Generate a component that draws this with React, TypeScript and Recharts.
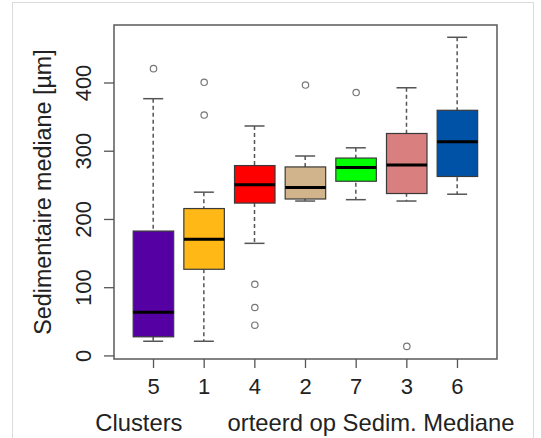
import { ComposedChart, Bar, Scatter, XAxis, YAxis, ReferenceArea } from "recharts";

// clusters sorted by their median sediment size
const clusters = ["5", "1", "4", "2", "7", "3", "6"];
const whiskerLow = [21.5, 21.5, 165, 227, 229, 227, 237];
const q1 = [28, 127, 224, 230, 256, 238, 263];
const median = [64, 171, 251, 247, 276, 280, 314];
const q3 = [183, 216, 279, 277, 290, 326, 360];
const whiskerHigh = [377, 240, 337, 293, 305, 393, 467];
const boxColors = ["#5500a2", "#ffb815", "#ff0000", "#d2b48c", "#00ff00", "#d97f7f", "#0052a6"];

const outlierCluster = ["5", "1", "1", "4", "4", "4", "2", "7", "3"];
const outlierValue = [421, 401, 353, 105, 71, 45, 397, 386, 14];

const yTicks = [0, 100, 200, 300, 400];
const xDomain = [0.22, 7.78];
const yDomain = [-4.5, 485];

const rows = clusters.map((name, i) => ({
  x: i + 1,
  name,
  whisker: [whiskerLow[i], whiskerHigh[i]],
  box: [q1[i], q3[i]],
  median: median[i],
  fill: boxColors[i],
}));

const outlierRows = outlierCluster.map((c, i) => ({
  x: clusters.indexOf(c) + 1,
  value: outlierValue[i],
}));

const FONT = "'Liberation Sans', Arial, sans-serif";
const BOX_W = 40.5;
const CAP_W = 20;

const Whisker = (props: any) => {
  const { x, y, width, height } = props;
  const cx = x + width / 2;
  return (
    <g>
      <line x1={cx} x2={cx} y1={y} y2={y + height} stroke="#555" strokeWidth={1.5} strokeDasharray="4 3" />
      <line x1={x} x2={x + width} y1={y} y2={y} stroke="#555" strokeWidth={1.5} />
      <line x1={x} x2={x + width} y1={y + height} y2={y + height} stroke="#555" strokeWidth={1.5} />
    </g>
  );
};

const Box = (props: any) => {
  const { x, y, width, height, payload } = props;
  return <rect x={x} y={y} width={width} height={height} fill={payload.fill} stroke="#3a3a3a" strokeWidth={1.2} />;
};

const MedianLine = (props: any) => {
  const { cx, cy } = props;
  return <line x1={cx - BOX_W / 2} x2={cx + BOX_W / 2} y1={cy} y2={cy} stroke="#000" strokeWidth={3} />;
};

const Outlier = (props: any) => {
  const { cx, cy } = props;
  return <circle cx={cx} cy={cy} r={3.2} fill="none" stroke="#777" strokeWidth={1.2} />;
};

const XTick = (props: any) => {
  const { x, y, payload } = props;
  return (
    <text x={x} y={y} dy={25.7} textAnchor="middle" fontFamily={FONT} fontSize={22} fill="#222">
      {clusters[payload.value - 1]}
    </text>
  );
};

const YTick = (props: any) => {
  const { x, y, payload } = props;
  const bx = x - 13;
  return (
    <text x={bx} y={y} transform={`rotate(-90, ${bx}, ${y})`} textAnchor="middle" fontFamily={FONT} fontSize={22} fill="#222">
      {payload.value}
    </text>
  );
};

const XTitle = (props: any) => {
  const { x, y, width } = props.viewBox;
  return (
    <g>
      <text x={x + width / 2 - 0.6} y={y + 72} textAnchor="middle" fontFamily={FONT} fontSize={23.8} fill="#222">
        Clusters gesorteerd op Sedim. Mediane
      </text>
      {/* white patch hiding part of the title, as in the source image */}
      <rect x={185} y={404} width={42} height={34} fill="#fff" />
    </g>
  );
};

const YTitle = (props: any) => {
  const { y, height } = props.viewBox;
  const cy = y + height / 2;
  return (
    <text x={51} y={cy} transform={`rotate(-90, 51, ${cy})`} textAnchor="middle" fontFamily={FONT} fontSize={23.3} fill="#222">
      Sedimentaire mediane [µm]
    </text>
  );
};

const App = () => {
  return (
    <div style={{ position: "relative", width: 541, height: 438, overflow: "hidden", background: "#fff" }}>
      <style>{"html, body { margin: 0; padding: 0; overflow: hidden; }"}</style>
      <div
        style={{
          position: "absolute",
          left: 12,
          top: 2,
          width: 520,
          height: 440,
          border: "1px solid #dcdcdc",
        }}
      />
      <div style={{ position: "absolute", left: 0, top: 0 }}>
        <ComposedChart width={541} height={438} data={rows} margin={{ top: 25, right: 44, left: 0, bottom: 0 }}>
          <XAxis
            xAxisId="b"
            dataKey="x"
            type="number"
            domain={xDomain}
            ticks={[1, 2, 3, 4, 5, 6, 7]}
            allowDataOverflow
            height={79}
            axisLine={false}
            tickSize={9}
            tickMargin={0}
            tickLine={{ stroke: "#555", strokeWidth: 1.3 }}
            tick={<XTick />}
            label={<XTitle />}
          />
          <XAxis xAxisId="w" dataKey="x" type="number" domain={xDomain} allowDataOverflow hide />
          <YAxis
            type="number"
            domain={yDomain}
            ticks={yTicks}
            allowDataOverflow
            width={114}
            axisLine={false}
            tickSize={10}
            tickMargin={0}
            tickLine={{ stroke: "#555", strokeWidth: 1.3 }}
            tick={<YTick />}
            label={<YTitle />}
          />
          <Bar xAxisId="w" dataKey="whisker" barSize={CAP_W} shape={<Whisker />} isAnimationActive={false} />
          <Bar xAxisId="b" dataKey="box" barSize={BOX_W} shape={<Box />} isAnimationActive={false} />
          <Scatter xAxisId="b" dataKey="median" shape={<MedianLine />} isAnimationActive={false} />
          <Scatter xAxisId="b" data={outlierRows} dataKey="value" shape={<Outlier />} isAnimationActive={false} />
          <ReferenceArea
            xAxisId="b"
            x1={xDomain[0]}
            x2={xDomain[1]}
            y1={yDomain[0]}
            y2={yDomain[1]}
            fill="none"
            fillOpacity={0}
            stroke="#5a5a5a"
            strokeWidth={1.5}
          />
        </ComposedChart>
      </div>
    </div>
  );
};

export default App;
